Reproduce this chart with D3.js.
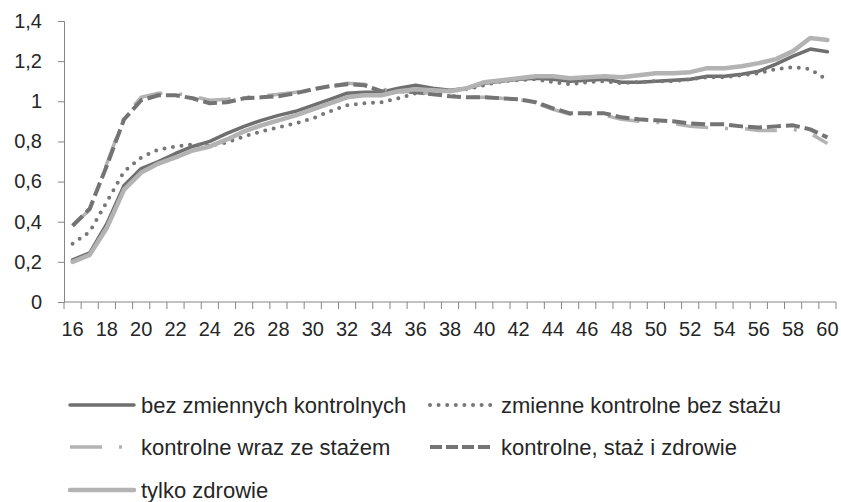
<!DOCTYPE html>
<html>
<head>
<meta charset="UTF-8">
<script src="https://d3js.org/d3.v7.min.js"></script>
<style>
    body { margin: 0; background: #fff; }
    text { font-family: "Liberation Sans", Arial, sans-serif; fill: #262626; }
    .axis path, .axis line { stroke: #868686; }
</style>
</head>
<body>
<svg width="841" height="502"></svg>
<script>
    // ages on the category axis
    let ages = [16, 17, 18, 19, 20, 21, 22, 23, 24, 25, 26, 27, 28, 29, 30,
        31, 32, 33, 34, 35, 36, 37, 38, 39, 40, 41, 42, 43, 44, 45,
        46, 47, 48, 49, 50, 51, 52, 53, 54, 55, 56, 57, 58, 59, 60];
    let yTicks = [0, 0.2, 0.4, 0.6, 0.8, 1, 1.2, 1.4];

    let bezZmiennych = [0.21, 0.245, 0.39, 0.58, 0.665, 0.70, 0.74, 0.775, 0.80, 0.84, 0.875, 0.905, 0.93, 0.95, 0.98,
        1.01, 1.04, 1.045, 1.045, 1.065, 1.08, 1.065, 1.055, 1.065, 1.09, 1.10, 1.11, 1.115, 1.11, 1.10,
        1.105, 1.11, 1.095, 1.095, 1.10, 1.105, 1.11, 1.125, 1.125, 1.135, 1.15, 1.185, 1.225, 1.26, 1.247];
    let bezStazu = [0.29, 0.35, 0.50, 0.65, 0.72, 0.76, 0.775, 0.785, 0.78, 0.795, 0.825, 0.85, 0.87, 0.89, 0.915,
        0.95, 0.98, 0.99, 0.995, 1.015, 1.04, 1.04, 1.05, 1.06, 1.08, 1.10, 1.105, 1.11, 1.095, 1.085,
        1.095, 1.10, 1.09, 1.095, 1.10, 1.10, 1.11, 1.12, 1.12, 1.13, 1.14, 1.16, 1.17, 1.16, 1.105];
    let zeStazem = [0.38, 0.46, 0.69, 0.92, 1.02, 1.04, 1.04, 1.025, 1.005, 1.01, 1.02, 1.025, 1.035, 1.045, 1.06,
        1.075, 1.09, 1.085, 1.06, 1.05, 1.045, 1.04, 1.03, 1.02, 1.02, 1.015, 1.01, 0.99, 0.96, 0.935,
        0.935, 0.93, 0.91, 0.90, 0.895, 0.89, 0.875, 0.87, 0.865, 0.865, 0.855, 0.855, 0.86, 0.84, 0.79];
    let stazZdrowie = [0.38, 0.465, 0.68, 0.91, 1.005, 1.03, 1.03, 1.015, 0.99, 0.995, 1.015, 1.02, 1.025, 1.04, 1.06,
        1.075, 1.085, 1.08, 1.05, 1.05, 1.045, 1.035, 1.025, 1.02, 1.02, 1.015, 1.01, 0.995, 0.965, 0.94,
        0.94, 0.94, 0.92, 0.91, 0.905, 0.90, 0.89, 0.885, 0.885, 0.875, 0.87, 0.875, 0.88, 0.86, 0.82];
    let tylkoZdrowie = [0.20, 0.235, 0.37, 0.56, 0.645, 0.69, 0.72, 0.755, 0.775, 0.81, 0.85, 0.88, 0.905, 0.93, 0.96,
        0.99, 1.02, 1.03, 1.03, 1.05, 1.06, 1.055, 1.05, 1.065, 1.095, 1.105, 1.115, 1.125, 1.125, 1.115,
        1.12, 1.125, 1.12, 1.13, 1.14, 1.14, 1.145, 1.165, 1.165, 1.175, 1.19, 1.21, 1.25, 1.315, 1.305];

    let seriesNames = ["bez zmiennych kontrolnych", "zmienne kontrolne bez stażu", "kontrolne wraz ze stażem",
        "kontrolne, staż i zdrowie", "tylko zdrowie"];

    let series = [
        { name: seriesNames[0], values: bezZmiennych, color: "#6f6f6f", width: 3.5, dash: null, cap: "round" },
        { name: seriesNames[1], values: bezStazu, color: "#777777", width: 4, dash: "0,8.6", cap: "round" },
        { name: seriesNames[2], values: zeStazem, color: "#b3b3b3", width: 3.5, dash: "32,17,3,17", cap: "butt" },
        { name: seriesNames[3], values: stazZdrowie, color: "#747474", width: 4, dash: "14,5", cap: "butt" },
        { name: seriesNames[4], values: tylkoZdrowie, color: "#b3b3b3", width: 4.5, dash: null, cap: "round" }
    ];

    let svg = d3.select("svg");
    let plotLeft = 64, plotRight = 836, plotTop = 21, plotBottom = 302;

    let x = d3.scaleBand().domain(ages).range([plotLeft, plotRight]).padding(0);
    let y = d3.scaleLinear().domain([0, 1.4]).range([plotBottom, plotTop]);

    // y axis
    let yAxis = svg.append("g")
        .attr("class", "axis")
        .attr("transform", "translate(" + plotLeft + ",0)")
        .call(d3.axisLeft(y).tickValues(yTicks).tickSizeOuter(0).tickSize(6).tickPadding(16)
            .tickFormat(d => String(+d.toFixed(1)).replace(".", ",")));
    yAxis.attr("font-family", null).attr("font-size", null);
    yAxis.selectAll("text").attr("font-size", "20px").attr("fill", "#262626");

    // x axis: line, boundary ticks, labels on every second age
    let xAxis = svg.append("g")
        .attr("class", "axis")
        .attr("transform", "translate(0," + plotBottom + ")");
    xAxis.append("line")
        .attr("x1", plotLeft).attr("x2", plotRight)
        .attr("y1", 0).attr("y2", 0);
    xAxis.selectAll("line.tick")
        .data(ages.map(a => x(a)).concat([plotRight]))
        .enter().append("line")
        .attr("class", "tick")
        .attr("x1", d => d).attr("x2", d => d)
        .attr("y1", 0).attr("y2", 7);
    xAxis.selectAll("text")
        .data(ages.filter(a => a % 2 === 0))
        .enter().append("text")
        .attr("x", d => x(d) + x.bandwidth() / 2)
        .attr("y", 27)
        .attr("text-anchor", "middle")
        .attr("dominant-baseline", "central")
        .attr("font-size", "20px")
        .text(d => d);

    // lines
    let line = d3.line()
        .x((d, i) => x(ages[i]) + x.bandwidth() / 2)
        .y(d => y(d));

    svg.append("g")
        .selectAll("path")
        .data(series)
        .enter().append("path")
        .attr("d", d => line(d.values))
        .attr("fill", "none")
        .attr("stroke", d => d.color)
        .attr("stroke-width", d => d.width)
        .attr("stroke-dasharray", d => d.dash)
        .attr("stroke-linecap", d => d.cap)
        .attr("stroke-linejoin", "round");

    // legend
    let colX = [70, 430], rowY = [405, 447, 490];
    let legend = svg.append("g")
        .selectAll("g")
        .data(series)
        .enter().append("g")
        .attr("transform", (d, i) => "translate(" + colX[i % 2] + "," + rowY[Math.floor(i / 2)] + ")");

    legend.append("line")
        .attr("x1", 0).attr("x2", (d, i) => i % 2 ? 62 : 64)
        .attr("y1", 0).attr("y2", 0)
        .attr("stroke", d => d.color)
        .attr("stroke-width", d => d.width)
        .attr("stroke-dasharray", (d, i) => i === 1 ? "0,8.6" : i === 3 ? "12,4" : d.dash)
        .attr("stroke-linecap", d => d.cap);

    legend.append("text")
        .attr("x", 71)
        .attr("y", 0)
        .attr("dominant-baseline", "central")
        .attr("font-size", "22px")
        .text(d => d.name);
</script>
</body>
</html>
